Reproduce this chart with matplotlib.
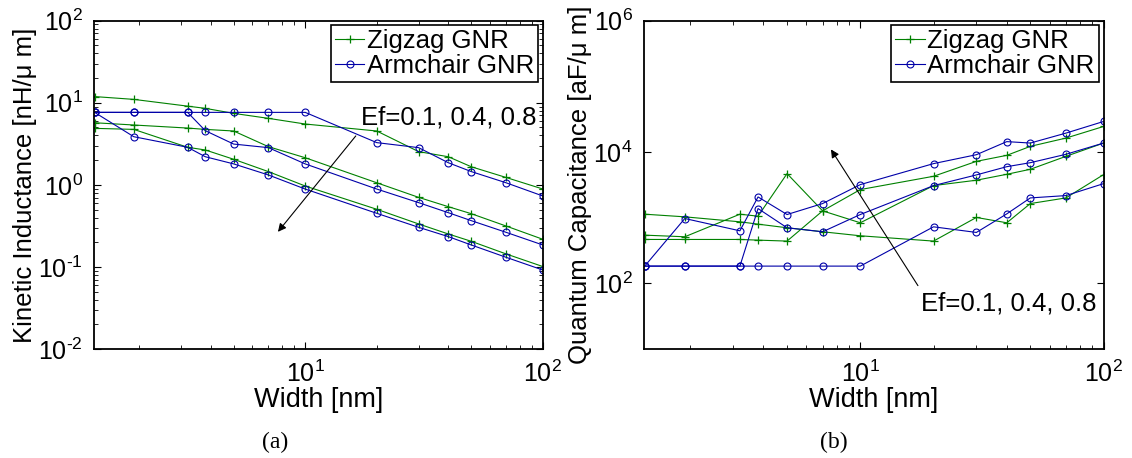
import matplotlib
matplotlib.use('Agg')
import math
import matplotlib.pyplot as plt
from matplotlib.ticker import LogLocator, NullLocator, FixedLocator, FuncFormatter

plt.rcParams['font.family'] = ['Liberation Sans', 'DejaVu Sans']
plt.rcParams['mathtext.fontset'] = 'custom'
plt.rcParams['mathtext.rm'] = 'Liberation Sans'
plt.rcParams['mathtext.it'] = 'Liberation Sans:italic'
plt.rcParams['mathtext.bf'] = 'Liberation Sans:bold'

# GNR width [nm]
width = [1.3, 1.9, 3.2, 3.8, 5, 7, 10, 20, 30, 40, 50, 70, 100]

# kinetic inductance [nH/um]
zz_lk_01 = [11.9, 11.0, 9.1, 8.55, 7.43, 6.46, 5.51, 4.53, 2.54, 2.20, 1.66, 1.23, 0.889]
zz_lk_04 = [5.71, 5.36, 4.92, 4.74, 4.53, 2.92, 2.14, 1.06, 0.704, 0.542, 0.445, 0.315, 0.217]
zz_lk_08 = [4.88, 4.74, 2.87, 2.66, 2.05, 1.45, 0.968, 0.504, 0.334, 0.252, 0.205, 0.144, 0.101]
ac_lk_01 = [7.64, 7.64, 7.64, 7.64, 7.64, 7.64, 7.64, 3.27, 2.84, 1.86, 1.45, 1.06, 0.731]
ac_lk_04 = [7.64, 7.64, 7.64, 4.57, 3.14, 2.84, 1.80, 0.889, 0.607, 0.458, 0.366, 0.264, 0.185]
ac_lk_08 = [7.64, 3.86, 2.87, 2.20, 1.80, 1.32, 0.889, 0.450, 0.304, 0.234, 0.185, 0.131, 0.0916]

# quantum capacitance [aF/um]
zz_cq_01 = [1130, 1030, 865, 797, 702, 610, 530, 440, 1008, 836, 1641, 2000, 4530]
zz_cq_04 = [542, 512, 1130, 1054, 4690, 1270, 836, 3080, 3720, 4580, 5460, 8590, 13700]
zz_cq_08 = [466, 466, 466, 455, 440, 1270, 2680, 4270, 7210, 8900, 12200, 16300, 24500]
ac_cq_01 = [183, 183, 183, 183, 183, 183, 183, 726, 596, 1143, 2000, 2170, 3300]
ac_cq_04 = [183, 183, 183, 1377, 702, 610, 1117, 3080, 4480, 5980, 6880, 9230, 13700]
ac_cq_08 = [183, 971, 631, 2070, 1117, 1641, 3190, 6660, 9100, 14400, 13700, 19400, 29200]

green = '#008000'
blue = '#0000a8'
fs_tick = 18
fs_text = 18.5

fig = plt.figure(figsize=(11.32, 4.58), dpi=100)
W, H = 1132.0, 458.0
ax1 = fig.add_axes([93.8/W, (H-349)/H, 449.1/W, 328.3/H])
ax2 = fig.add_axes([643.9/W, (H-349)/H, 459.7/W, 328.3/H])


def pow10(v, pos):
    e = int(round(math.log10(v)))
    if e < 0:
        return r'$\mathdefault{10^{\text{-}%d}}$' % (-e)
    return r'$\mathdefault{10^{%d}}$' % e


def draw(ax, zz, ac):
    for i, y in enumerate(zz):
        ax.plot(width, y, '-+', color=green, lw=0.8, ms=6, mew=0.9,
                label='Zigzag GNR' if i == 0 else None)
    for i, y in enumerate(ac):
        ax.plot(width, y, '-o', color=blue, lw=0.8, ms=5, mew=0.8, mfc='none',
                label='Armchair GNR' if i == 0 else None)
    ax.set_xscale('log')
    ax.set_yscale('log')
    ax.set_xlim(1.29, 100)
    ax.tick_params(which='both', direction='in', top=True, right=True, labelsize=fs_tick)
    ax.tick_params(which='major', length=5, width=0.8)
    ax.tick_params(which='minor', length=3, width=0.6)
    ax.tick_params(axis='x', which='major', pad=8.5)
    ax.tick_params(axis='y', which='major', pad=8)
    for sp in ax.spines.values():
        sp.set_linewidth(1.3)
    ax.set_xlabel('Width [nm]', fontsize=19.5, labelpad=0)
    leg = ax.legend(loc='upper right', bbox_to_anchor=(0.989, 0.987), borderaxespad=0,
                    fontsize=fs_text, frameon=True, fancybox=False, framealpha=1,
                    handlelength=1.15, handletextpad=0.1, labelspacing=0.05,
                    borderpad=0.15)
    leg.get_frame().set_edgecolor('black')
    leg.get_frame().set_linewidth(1.2)


draw(ax1, [zz_lk_01, zz_lk_04, zz_lk_08], [ac_lk_01, ac_lk_04, ac_lk_08])
ax1.set_ylim(1e-2, 1e2)
ax1.yaxis.set_major_locator(LogLocator(base=10, numticks=10))
ax1.yaxis.set_major_formatter(FuncFormatter(pow10))
ax1.set_ylabel('Kinetic Inductance [nH/\u03bc m]', fontsize=fs_text, labelpad=1)
ax1.annotate('', xy=(7.55, 0.252), xytext=(16.6, 4.19),
             arrowprops=dict(arrowstyle='-|>', color='black', lw=0.8,
                             mutation_scale=12))
ax1.text(17.2, 6.56, 'Ef=0.1, 0.4, 0.8', fontsize=fs_text, va='center', ha='left')

draw(ax2, [zz_cq_01, zz_cq_04, zz_cq_08], [ac_cq_01, ac_cq_04, ac_cq_08])
ax2.set_ylim(1e1, 1e6)
ax2.yaxis.set_major_locator(FixedLocator([1e2, 1e4, 1e6]))
ax2.yaxis.set_minor_locator(NullLocator())
ax2.yaxis.set_major_formatter(FuncFormatter(pow10))
ax2.set_ylabel('Quantum Capacitance [aF/\u03bc m]', fontsize=fs_text, labelpad=1)
ax2.annotate('', xy=(7.47, 11900), xytext=(17.5, 85),
             arrowprops=dict(arrowstyle='-|>', color='black', lw=0.8,
                             mutation_scale=12))
ax2.text(17.8, 50, 'Ef=0.1, 0.4, 0.8', fontsize=fs_text, va='center', ha='left')

fig.text(275/W, 1 - 442/H, '(a)', fontsize=17, family='Liberation Serif',
         ha='center', va='center')
fig.text(834/W, 1 - 442/H, '(b)', fontsize=17, family='Liberation Serif',
         ha='center', va='center')

fig.savefig('out.png', dpi=100)
